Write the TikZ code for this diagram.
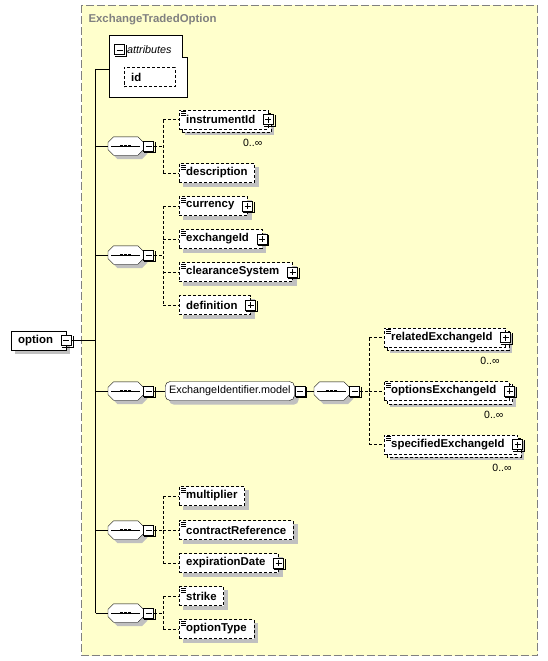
\documentclass[tikz,border=0pt]{standalone}
\usepackage{fontspec}
\setmainfont{Liberation Sans}

\definecolor{panel}{HTML}{FFFFCC}
\definecolor{shadowgray}{HTML}{C0C0C0}
\definecolor{framegray}{HTML}{808080}

\pgfdeclarelayer{back}
\pgfdeclarelayer{shadow}
\pgfsetlayers{back,shadow,main}

\tikzset{
	link/.style={dash pattern=on 3pt off 2pt},
	box/.style={draw, fill=white, anchor=west, minimum height=19pt, inner xsep=7pt, inner ysep=0pt, font=\fontsize{11.4}{13}\selectfont\bfseries},
	elem/.style={box, link},
	more/.style={execute at end node={\hspace{6pt}}},
	simple/.style={path picture={
		\foreach \k in {1.5,3.5,5.5}
			\draw[solid, line width=0.6pt] ([xshift=2pt, yshift=-\k pt]path picture bounding box.north west) -- ++(5pt,0pt);}},
	pm/.style={draw, solid, fill=white, line width=1pt, minimum size=10pt, inner sep=0pt},
	pbox/.style={pm, path picture={
		\draw[line width=0.8pt] ([xshift=2pt]path picture bounding box.west) -- ([xshift=-2pt]path picture bounding box.east)
			([yshift=-2pt]path picture bounding box.north) -- ([yshift=2pt]path picture bounding box.south);}},
	mbox/.style={pm, path picture={
		\draw[line width=0.8pt] ([xshift=2pt]path picture bounding box.west) -- ([xshift=-2pt]path picture bounding box.east);}},
	seq/.style={anchor=west, minimum width=35pt, minimum height=18pt, inner sep=0pt},
	group/.style={draw, fill=white, rounded corners=5pt, anchor=west, minimum height=19pt, inner xsep=4pt, inner ysep=0pt,
		font=\fontsize{10.8}{13}\selectfont},
	card/.style={font=\fontsize{10.5}{12}\selectfont, inner sep=1pt, anchor=north east},
}

% grey shadow behind node #2, moved by #3
\newcommand{\castshadow}[3][]{
	\begin{pgfonlayer}{shadow}
		\fill[shadowgray, #1] ([xshift=#3, yshift=-#3]#2.south west) rectangle ([xshift=#3, yshift=-#3]#2.north east);
	\end{pgfonlayer}
}
% second dashed frame of an element that repeats
\newcommand{\castcopy}[1]{
	\begin{pgfonlayer}{shadow}
		\draw[link, fill=white] ([xshift=3pt, yshift=-3pt]#1.south west) rectangle ([xshift=3pt, yshift=-3pt]#1.north east);
	\end{pgfonlayer}
}
% octagon of a sequence compositor, drawn round the node #1
\newcommand{\octo}[1]{
	\begin{pgfonlayer}{shadow}
		\fill[shadowgray] ([xshift=9.5pt, yshift=-4pt]#1.north west) -- ([xshift=-1.5pt, yshift=-4pt]#1.north east) -- ([xshift=4pt, yshift=-9.5pt]#1.north east)
			-- ([xshift=4pt, yshift=1.5pt]#1.south east) -- ([xshift=-1.5pt, yshift=-4pt]#1.south east) -- ([xshift=9.5pt, yshift=-4pt]#1.south west)
			-- ([xshift=4pt, yshift=1.5pt]#1.south west) -- ([xshift=4pt, yshift=-9.5pt]#1.north west) -- cycle;
	\end{pgfonlayer}
	\draw[fill=white] ([xshift=5.5pt]#1.north west) -- ([xshift=-5.5pt]#1.north east) -- ([yshift=-5.5pt]#1.north east) -- ([yshift=5.5pt]#1.south east)
		-- ([xshift=-5.5pt]#1.south east) -- ([xshift=5.5pt]#1.south west) -- ([yshift=5.5pt]#1.south west) -- ([yshift=-5.5pt]#1.north west) -- cycle;
	\draw ([xshift=3pt]#1.west) -- ([xshift=-3pt]#1.east);
	\foreach \d in {-4,0,4}
		\fill ([xshift=\d pt]#1.center) +(-1.4,-1.4) rectangle +(1.4,1.4);
}

\begin{document}
\begin{tikzpicture}[x=1pt, y=-1pt, line width=1pt]
	\useasboundingbox (0,0) rectangle (548,661);
	\begin{pgfonlayer}{back}
		\draw[framegray, dash pattern=on 8pt off 3pt, fill=panel] (81.5,5.5) rectangle (537.5,655.5);
	\end{pgfonlayer}
	\node[anchor=west, text=framegray, font=\fontsize{11.4}{13}\selectfont\bfseries] (title) at (85,20) {ExchangeTradedOption};

	% attributes
	\draw[fill=white] (109.5,35.5) -- (182.5,35.5) -- (182.5,57.5) -- (187.5,57.5) -- (187.5,97.5) -- (109.5,97.5) -- cycle;
	\coordinate (attr) at (109.5,69);
	\node[mbox] (attr-m) at (119.5,50) {};
	\node[anchor=west, font=\fontsize{10.8}{13}\selectfont\itshape, inner sep=2pt] (attr-t) at (attr-m.east) {attributes};
	\node[elem, text width=37pt, align=left] (id) at (124,77) {id};

	% option and its sequences
	\node[box, more] (option) at (11,340.5) {option};
	\node[mbox] (option-m) at (option.east) {};
	\coordinate (trunk) at (95.5,340.5);

	\node[seq] (s1) at (108,146) {};
	\node[seq] (s2) at (108,255) {};
	\node[seq] (s3) at (108,391) {};
	\node[seq] (s4) at (108,530) {};
	\node[seq] (s5) at (108,613) {};
	\foreach \n in {s1,s2,s3,s4,s5}
		\octo{\n};
	\node[mbox, anchor=west] (s1-m) at (s1.east) {};
	\node[mbox, anchor=west] (s2-m) at (s2.east) {};
	\node[mbox, anchor=west] (s3-m) at (s3.east) {};
	\node[mbox, anchor=west] (s4-m) at (s4.east) {};
	\node[mbox, anchor=west] (s5-m) at (s5.east) {};

	\draw (option-m.east) -- (trunk);
	\draw (trunk |- attr) -- (trunk |- s5);
	\foreach \n in {attr,s1,s2,s3,s4,s5}
		\draw (trunk |- \n) -- (\n);

	% sequence 1
	\node[elem, simple, more] (instr) at (179,119.5) {instrumentId};
	\node[pbox] (instr-p) at (instr.east) {};
	\node[card] (instr-c) at ([xshift=-5pt, yshift=-9pt]instr.south east) {0..∞};
	\node[elem, simple] (desc) at (179,173) {description};
	\draw[link] (s1-m.east) -- ++(9,0) coordinate (s1-v);
	\draw[link] (s1-v |- instr) -- (s1-v |- desc);
	\foreach \n in {instr,desc}
		\draw[link] (s1-v |- \n) -- (\n);

	% sequence 2
	\node[elem, simple, more] (currency) at (179,206) {currency};
	\node[pbox] (currency-p) at (currency.east) {};
	\node[elem, simple, more] (exch) at (179,239) {exchangeId};
	\node[pbox] (exch-p) at (exch.east) {};
	\node[elem, simple, more] (clear) at (179,272) {clearanceSystem};
	\node[pbox] (clear-p) at (clear.east) {};
	\node[elem, more] (defn) at (179,305) {definition};
	\node[pbox] (defn-p) at (defn.east) {};
	\draw[link] (s2-m.east) -- ++(9,0) coordinate (s2-v);
	\draw[link] (s2-v |- currency) -- (s2-v |- defn);
	\foreach \n in {currency,exch,clear,defn}
		\draw[link] (s2-v |- \n) -- (\n);

	% sequence 3
	\node[group] (model) at (165,391) {ExchangeIdentifier.model};
	\node[mbox, anchor=west] (model-m) at (model.east) {};
	\node[seq] (s6) at (314,391) {};
	\octo{s6}
	\node[mbox, anchor=west] (s6-m) at (s6.east) {};
	\draw (s3-m.east) -- (model.west);
	\draw (model-m.east) -- (s6.west);
	\node[elem, simple, more] (related) at (384,337.5) {relatedExchangeId};
	\node[pbox] (related-p) at (related.east) {};
	\node[card] (related-c) at ([xshift=-5pt, yshift=-9pt]related.south east) {0..∞};
	\node[elem, simple, more] (options) at (384,391) {optionsExchangeId};
	\node[pbox] (options-p) at (options.east) {};
	\node[card] (options-c) at ([xshift=-5pt, yshift=-9pt]options.south east) {0..∞};
	\node[elem, simple, more] (specified) at (384,444.5) {specifiedExchangeId};
	\node[pbox] (specified-p) at (specified.east) {};
	\node[card] (specified-c) at ([xshift=-5pt, yshift=-9pt]specified.south east) {0..∞};
	\draw[link] (s6-m.east) -- ++(9,0) coordinate (s6-v);
	\draw[link] (s6-v |- related) -- (s6-v |- specified);
	\foreach \n in {related,options,specified}
		\draw[link] (s6-v |- \n) -- (\n);

	% sequence 4
	\node[elem, simple] (mult) at (179,496) {multiplier};
	\node[elem, simple] (contract) at (179,530) {contractReference};
	\node[elem, more] (expiry) at (179,563) {expirationDate};
	\node[pbox] (expiry-p) at (expiry.east) {};
	\draw[link] (s4-m.east) -- ++(9,0) coordinate (s4-v);
	\draw[link] (s4-v |- mult) -- (s4-v |- expiry);
	\foreach \n in {mult,contract,expiry}
		\draw[link] (s4-v |- \n) -- (\n);

	% sequence 5
	\node[elem, simple] (strike) at (179,596) {strike};
	\node[elem, simple] (otype) at (179,629) {optionType};
	\draw[link] (s5-m.east) -- ++(9,0) coordinate (s5-v);
	\draw[link] (s5-v |- strike) -- (s5-v |- otype);
	\foreach \n in {strike,otype}
		\draw[link] (s5-v |- \n) -- (\n);

	% shadows
	\foreach \n in {option,id,desc,currency,exch,clear,defn,mult,contract,expiry,strike,otype}
		\castshadow{\n}{4pt};
	\foreach \n in {instr,related,options,specified}{
		\castshadow{\n}{6pt}
		\castcopy{\n}
	}
	\castshadow[rounded corners=5pt]{model}{4pt};
	\foreach \n in {attr-m,option-m,s1-m,s2-m,s3-m,s4-m,s5-m,s6-m,model-m,instr-p,currency-p,exch-p,clear-p,defn-p,related-p,options-p,specified-p,expiry-p}
		\draw ([xshift=1pt, yshift=-1pt]\n.south west) -| ([xshift=1pt, yshift=-1pt]\n.north east);
\end{tikzpicture}
\end{document}
